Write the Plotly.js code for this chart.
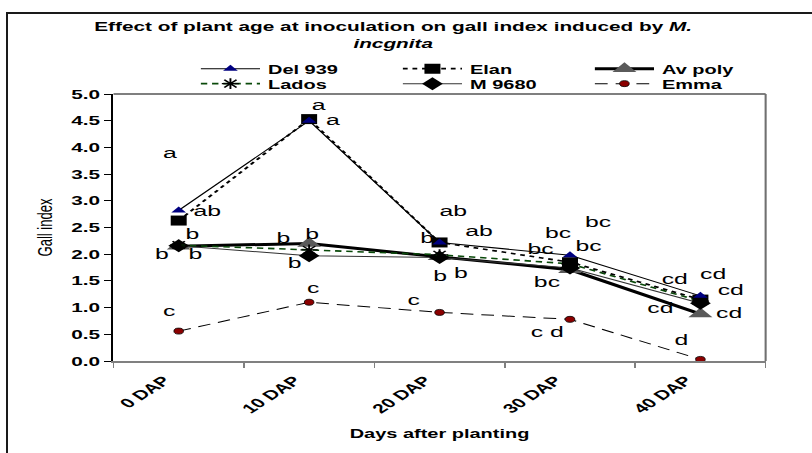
<!DOCTYPE html>
<html>
<head>
<meta charset="utf-8">
<script src="https://cdn.plot.ly/plotly-3.0.1.min.js"></script>
<style>
  html, body { margin: 0; padding: 0; background: #fff; overflow: hidden; width: 812px; height: 453px; }
  #wrap { position: absolute; left: 0; top: 0; width: 508px; height: 453px; transform: scaleX(1.5984); transform-origin: 0 0; }
  #frame { position: absolute; left: 6px; top: 12px; width: 830px; height: 470px; border: 2px solid #1a1a1a; pointer-events: none; }
</style>
</head>
<body>
<div id="wrap"><div id="chart"></div></div>
<div id="frame"></div>
<script>
// ---- data ----
const categories = ['0 DAP', '10 DAP', '20 DAP', '30 DAP', '40 DAP'];
const del939 = [2.82, 4.50, 2.22, 1.98, 1.22];
const elan   = [2.63, 4.53, 2.22, 1.85, 1.15];
const avPoly = [2.15, 2.20, 1.95, 1.71, 0.88];
const lados  = [2.17, 2.08, 1.99, 1.82, 1.12];
const m9680  = [2.16, 1.97, 1.94, 1.74, 1.08];
const emma   = [0.56, 1.10, 0.91, 0.78, 0.03];

// significance letters: category index, label, value level
const letterCat  = [0,0,0,0,0,0, 1,1,1,1,1,1, 2,2,2,2,2,2, 3,3,3,3,3,3, 4,4,4,4,4,4];
const letterText = ['a','ab','b','b','b','c',
                    'a','a','b','b','b','c',
                    'ab','ab','b','b','b','c',
                    'bc','bc','bc','bc','bc','c d',
                    'cd','cd','cd','cd','cd','d'];
const letterY    = [3.90,2.81,2.38,2.02,2.02,0.95,
                    4.80,4.53,2.32,2.38,1.85,1.37,
                    2.81,2.45,2.32,1.61,1.65,1.16,
                    2.62,2.41,2.10,2.17,1.48,0.56,
                    1.55,1.63,1.33,1.01,0.90,0.41];
// horizontal offsets (screen px) of letters from the category centre
const letterDx   = [-9,29,14,-17,17,-10,
                    10,24,-26,4,-15,4,
                    14,39,-12,0,22,-26,
                    29,-11,-29,19,-22,-22,
                    -26,13,30,-41,28,-18];

const SX = 1.5984;
const W = 508, H = 453;
const FONT = 'Liberation Sans, Arial, Helvetica, sans-serif';

// drawing order: Av poly at the bottom so the other markers cover it
const traces = [
  {name: 'Av poly', y: avPoly, legend: 'legend3',
   line: {color: '#000', width: 3},
   marker: {symbol: 'triangle-up', size: 13, color: '#5a5a5a', line: {width: 0}}},
  {name: 'Emma', y: emma, legend: 'legend6',
   line: {color: '#000', width: 1, dash: '8px,5px'},
   marker: {symbol: 'circle', size: 6, color: '#8b0000', line: {color: '#000', width: 0.6}}},
  {name: 'M 9680', y: m9680, legend: 'legend5',
   line: {color: '#333', width: 1},
   marker: {symbol: 'diamond', size: 10, color: '#000', line: {width: 0}}},
  {name: 'Lados', y: lados, legend: 'legend4',
   line: {color: '#0a4a0a', width: 1.6, dash: '4px,3px'},
   marker: {symbol: 'asterisk-open', size: 9, color: '#000', line: {color: '#000', width: 1.2}}},
  {name: 'Elan', y: elan, legend: 'legend2',
   line: {color: '#000', width: 1.6, dash: 'dot'},
   marker: {symbol: 'square', size: 10, color: '#000', line: {width: 0}}},
  {name: 'Del 939', y: del939, legend: 'legend',
   line: {color: '#000', width: 1},
   marker: {symbol: 'triangle-up', size: 8, color: '#000080', line: {width: 0}}}
].map(t => Object.assign({type: 'scatter', mode: 'lines+markers', x: categories, cliponaxis: false}, t));

const annotations = letterText.map((txt, i) => ({
  x: categories[letterCat[i]], y: letterY[i], xref: 'x', yref: 'y',
  text: txt, showarrow: false, xshift: letterDx[i] / SX,
  xanchor: 'center', yanchor: 'middle',
  font: {family: FONT, size: 15.5, color: '#000'}
}));

// legend entries: text start (screen px) and row centre (screen px)
function legendAt(textX, rowY) {
  return {
    orientation: 'h', xref: 'container', yref: 'container',
    x: (textX / SX - 47) / W, xanchor: 'left',
    y: 1 - rowY / H, yanchor: 'middle',
    bgcolor: 'rgba(0,0,0,0)', borderwidth: 0,
    font: {family: FONT, size: 12.5, color: '#000', weight: 'bold'},
    itemwidth: 37, itemclick: false
  };
}

const layout = {
  width: W, height: H,
  margin: {l: 70.7, r: 29.4, t: 94, b: 92, autoexpand: false},
  paper_bgcolor: '#fff', plot_bgcolor: '#fff',
  font: {family: FONT, color: '#000'},
  title: {
    text: 'Effect of plant age at inoculation on gall index induced by <i>M.</i><br><i>incgnita</i>',
    font: {family: FONT, size: 13, color: '#000', weight: 'bold'},
    x: 246 / W, xref: 'container', xanchor: 'center',
    y: 1 - 31 / H, yref: 'container', yanchor: 'top'
  },
  showlegend: true,
  legend:  legendAt(268, 69),
  legend2: legendAt(470, 69),
  legend3: legendAt(662, 69),
  legend4: legendAt(268, 84),
  legend5: legendAt(470, 84),
  legend6: legendAt(662, 84),
  xaxis: {
    type: 'category', range: [-0.5, 4.5], tickson: 'boundaries',
    ticks: 'outside', ticklen: 5, tickcolor: '#808080', tickwidth: 1,
    tickangle: -45, tickfont: {family: FONT, size: 13, weight: 'bold'},
    ticklabelshift: -9, ticklabelstandoff: 5,
    showline: true, linecolor: '#808080', linewidth: 2, showgrid: false, zeroline: false,
    title: {text: 'Days after planting', font: {family: FONT, size: 12.5, weight: 'bold'}, standoff: 14}
  },
  yaxis: {
    range: [0, 5], dtick: 0.5, tickformat: '.1f',
    ticks: 'outside', ticklen: 4.5, tickcolor: '#000', tickwidth: 1,
    tickfont: {family: FONT, size: 13, weight: 'bold'},
    showline: true, linecolor: '#000', linewidth: 1.3, showgrid: false, zeroline: false,
    title: {text: 'Gall index', font: {family: FONT, size: 13}, standoff: 8}
  },
  shapes: [
    {type: 'line', xref: 'paper', yref: 'paper', x0: 0, x1: 1, y0: 1, y1: 1, line: {color: '#000', width: 1}},
    {type: 'line', xref: 'paper', yref: 'paper', x0: 1, x1: 1, y0: 0, y1: 1, line: {color: '#707070', width: 1.3}}
  ],
  annotations: annotations
};

Plotly.newPlot('chart', traces, layout, {staticPlot: true, displayModeBar: false});
</script>
</body>
</html>
